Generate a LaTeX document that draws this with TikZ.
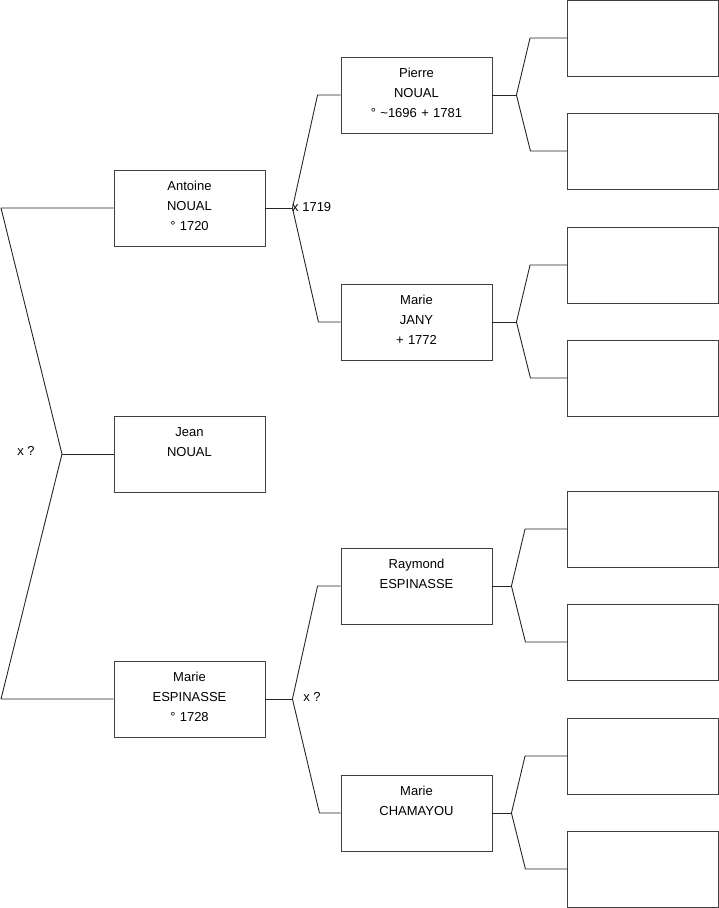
\documentclass[tikz,border=0pt]{standalone}
\usepackage{fontspec}
\setmainfont{Liberation Sans}
\usepackage{tikz}
\usetikzlibrary{positioning}
\tikzset{
  person/.style={draw=black!75, line width=0.9pt, inner sep=0pt, text width=151pt, align=center,
    text height=20.5pt, text depth=55.5pt, font=\fontsize{13}{20}\selectfont},
  blank/.style={draw=black!75, line width=0.9pt, inner sep=0pt, minimum width=151pt, minimum height=76pt},
  link/.style={line width=0.9pt, black!85, line join=bevel},
  mar/.style={inner sep=1pt, font=\fontsize{13}{15}\selectfont},
}
\begin{document}
\begin{tikzpicture}[x=1pt,y=-1pt]
  \useasboundingbox (0,0) rectangle (719,908);
  % generation 2
  \node[person] (antoine) at (189.5,208) {Antoine\\NOUAL\\° 1720};
  \node[person] (jean)    at (189.5,454) {Jean\\NOUAL};
  \node[person] (marie)   at (189.5,699) {Marie\\ESPINASSE\\° 1728};
  % generation 3
  \node[person] (pierre)   at (416.5,95)  {Pierre\\NOUAL\\° \textasciitilde1696 + 1781};
  \node[person] (jany)     at (416.5,322) {Marie\\JANY\\+ 1772};
  \node[person] (raymond)  at (416.5,586) {Raymond\\ESPINASSE};
  \node[person] (chamayou) at (416.5,813) {Marie\\CHAMAYOU};
  % generation 4, still empty
  \foreach \y [count=\i] in {38,151,265,378,529,642,756,869}
    \node[blank] (g\i) at (643,\y) {};

  % root fork
  \coordinate (froot) at (62,454);
  \draw[link] (antoine.west) -- (1,208) -- (froot) -- (1,699) -- (marie.west);
  \draw[link] (froot) -- (jean.west);
  \node[mar] (m0) at (26,451) {x ?};

  % parents of Antoine
  \draw[link] (antoine.east) -- ++(27,0) coordinate (fa);
  \draw[link] (pierre.west) -- ++(-23,0) -- (fa) -- ++(26,114) -- (jany.west);
  \node[mar,anchor=west] (m1) at (291,207) {x 1719};

  % parents of Marie
  \draw[link] (marie.east) -- ++(27,0) coordinate (fm);
  \draw[link] (raymond.west) -- ++(-23,0) -- (fm) -- ++(27,114) -- (chamayou.west);
  \node[mar] (m2) at (312,697) {x ?};

  % generation 4 forks
  \draw[link] (pierre.east) -- ++(24,0) coordinate (fp);
  \draw[link] (g1.west) -- ++(-37,0) -- (fp) -- ++(14,56) -- (g2.west);
  \draw[link] (jany.east) -- ++(24,0) coordinate (fj);
  \draw[link] (g3.west) -- ++(-37,0) -- (fj) -- ++(14,56) -- (g4.west);
  \draw[link] (raymond.east) -- ++(19,0) coordinate (fr);
  \draw[link] (g5.west) -- ++(-42,0) -- (fr) -- ++(14,56) -- (g6.west);
  \draw[link] (chamayou.east) -- ++(19,0) coordinate (fc);
  \draw[link] (g7.west) -- ++(-42,0) -- (fc) -- ++(14,56) -- (g8.west);
\end{tikzpicture}
\end{document}
